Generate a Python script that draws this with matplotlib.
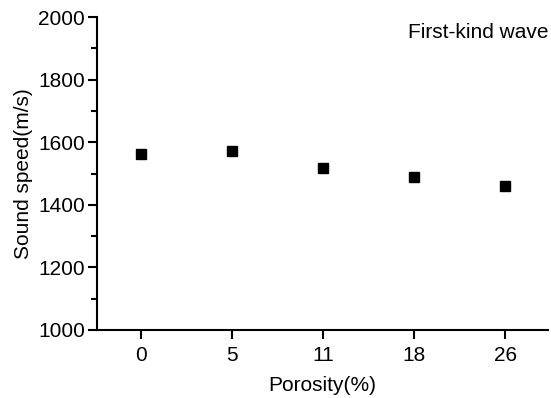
import numpy as np
import matplotlib
matplotlib.use("Agg")
from matplotlib import pyplot as plt
from matplotlib.ticker import MultipleLocator

porosity = ['0', '5', '11', '18', '26']
speed = [1562, 1572, 1519, 1489, 1460]
speed_err = [6, 8, 10, 6, 5]

plt.rcParams['font.family'] = ['Liberation Sans', 'DejaVu Sans']

fig = plt.figure(figsize=(5.51, 3.98), dpi=100)
ax = fig.add_axes([0.176, 0.171, 0.819, 0.786])

x = np.arange(len(porosity))
ax.errorbar(x, speed, yerr=speed_err, fmt='s', color='black', ms=7,
            capsize=0, elinewidth=1)

ax.set_xlim(-0.48, 4.47)
ax.set_ylim(1000, 2000)
ax.set_xticks(x, porosity)
ax.yaxis.set_major_locator(MultipleLocator(200))
ax.yaxis.set_minor_locator(MultipleLocator(100))

for s in ['top', 'right']:
    ax.spines[s].set_visible(False)
for s in ['left', 'bottom']:
    ax.spines[s].set_linewidth(1.5)
ax.tick_params(axis='both', which='major', direction='out', length=6.5, width=1.5,
               labelsize=15, pad=2)
ax.tick_params(axis='x', which='major', pad=5)
ax.tick_params(axis='y', which='minor', direction='out', length=4, width=1.5)

ax.set_xlabel('Porosity(%)', fontsize=15, labelpad=8)
ax.set_ylabel('Sound speed(m/s)', fontsize=15, labelpad=4)
ax.text(1.0, 0.98, 'First-kind wave', transform=ax.transAxes, ha='right', va='top', fontsize=15)

fig.savefig('out.png', dpi=100)
